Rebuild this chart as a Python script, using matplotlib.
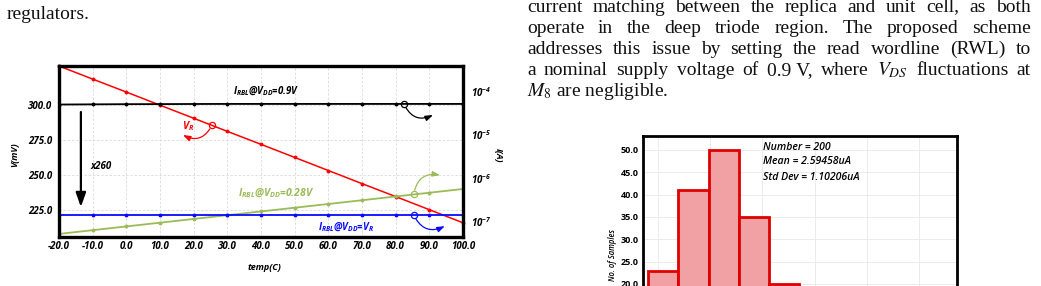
"""Page crop: replica read-bitline current vs temperature, next to a
Monte Carlo histogram of the read current and the surrounding paper text.

Saves to: out.png (1041 x 286 px)
"""

import matplotlib.pyplot as plt
import numpy as np
from matplotlib.ticker import NullLocator

W_PX, H_PX = 1041, 286
DPI = 100

CHART_FONT = "Open Sans"
TEXT_FONT = "Liberation Serif"

RED = "#ff0000"
GREEN = "#9bbb59"
BLUE = "#0a0aff"

# --- left chart: temperature sweep ---
TEMPS = [-20, -10, 0, 10, 20, 30, 40, 50, 60, 70, 80, 90, 100]
V_R_MV = [328.0, 318.6, 309.3, 299.9, 290.5, 281.1, 271.8, 262.4, 253.0,
          243.6, 234.3, 224.9, 215.5]
I_RBL_09V = [5.1e-5, 5.15e-5, 5.2e-5, 5.22e-5, 5.25e-5, 5.27e-5, 5.27e-5,
             5.27e-5, 5.27e-5, 5.27e-5, 5.27e-5, 5.27e-5, 5.27e-5]
I_RBL_028V = [5.14e-8, 6.28e-8, 7.67e-8, 9.36e-8, 1.143e-7, 1.396e-7,
              1.705e-7, 2.08e-7, 2.54e-7, 3.10e-7, 3.79e-7, 4.63e-7, 5.65e-7]
I_RBL_VR = [1.41e-7, 1.41e-7, 1.41e-7, 1.41e-7, 1.41e-7, 1.41e-7, 1.41e-7,
            1.41e-7, 1.41e-7, 1.41e-7, 1.41e-7, 1.41e-7, 1.41e-7]

X_TICK_LABELS = ["-20.0", "-10.0", "0.0", "10.0", "20.0", "30.0", "40.0",
                 "50.0", "60.0", "70.0", "80.0", "90.0", "100.0"]
V_TICKS = [225, 250, 275, 300]
V_TICK_LABELS = ["225.0", "250.0", "275.0", "300.0"]
I_TICKS = [1e-7, 1e-6, 1e-5, 1e-4]
I_TICK_LABELS = [r"$10^{-7}$", r"$10^{-6}$", r"$10^{-5}$", r"$10^{-4}$"]

# --- right chart: histogram of read current (only the top is on the page) ---
HIST_EDGES = [0.81, 1.39, 1.97, 2.55, 3.13, 3.71]
HIST_COUNTS = [23, 41, 50, 35, 20]
HIST_Y_TICKS = [20, 25, 30, 35, 40, 45, 50]
HIST_STATS = ["Number = 200", "Mean = 2.59458uA", "Std Dev = 1.10206uA"]

# --- surrounding paper text ---
LEFT_TEXT = "regulators."
RIGHT_TEXT = [
    "current matching between the replica and unit cell, as both",
    "operate in the deep triode region. The proposed scheme",
    "addresses this issue by setting the read wordline (RWL) to",
    "a nominal supply voltage of 0.9\u00a0V, where $V_{DS}$ fluctuations at",
    "$M_8$ are negligible.",
]


def fx(px):
    return px / W_PX


def fy(py):
    return 1 - py / H_PX


def justify(fig, renderer, line, x0, x1, y, **kw):
    """Place the words of one line so that it spans x0..x1 (pixels)."""
    items = [fig.text(0, fy(y), w, va="baseline", **kw) for w in line.split(" ")]
    widths = [t.get_window_extent(renderer).width for t in items]
    gap = (x1 - x0 - sum(widths)) / (len(items) - 1)
    x = x0
    for t, w in zip(items, widths):
        t.set_x(fx(x))
        x += w + gap


def main():
    plt.rcParams["mathtext.fontset"] = "custom"
    plt.rcParams["mathtext.rm"] = "Open Sans:italic:bold"
    plt.rcParams["mathtext.it"] = "Open Sans:italic:bold"
    plt.rcParams["mathtext.bf"] = "Open Sans:italic:bold"

    fig = plt.figure(figsize=(W_PX / DPI, H_PX / DPI), dpi=DPI)
    bold_it = dict(family=CHART_FONT, fontweight="bold", fontstyle="italic")

    # --- Left chart ---
    ax = fig.add_axes([fx(59), fy(237), (463 - 59) / W_PX, (237 - 66) / H_PX])
    ax.set_xlim(-20, 100)
    ax.set_ylim(205.3, 328)
    ax.set_xticks(TEMPS, X_TICK_LABELS, fontsize=7, **bold_it)
    ax.set_yticks(V_TICKS, V_TICK_LABELS, fontsize=7, **bold_it)
    ax.tick_params(length=0)
    ax.tick_params(axis="x", pad=3)
    ax.tick_params(axis="y", pad=5)
    ax.grid(True, color="#dadada", linewidth=0.6, linestyle=(0, (3, 2)))
    for s in ax.spines.values():
        s.set_visible(False)

    ax.plot(TEMPS, V_R_MV, color=RED, linewidth=1.1, marker="o",
            markersize=1.8, clip_on=False)

    ax2 = ax.twinx()
    ax2.set_yscale("log")
    ax2.set_ylim(10 ** -7.36, 10 ** -3.40)
    ax2.set_yticks(I_TICKS, I_TICK_LABELS, fontsize=7, **bold_it)
    ax2.yaxis.set_minor_locator(NullLocator())
    ax2.tick_params(length=0, pad=6)
    for s in ax2.spines.values():
        s.set_linewidth(2.4)
        s.set_color("black")

    ax2.plot(TEMPS, I_RBL_09V, color="black", linewidth=1.3, marker="o",
             markersize=1.8)
    ax2.plot(TEMPS, I_RBL_028V, color=GREEN, linewidth=1.3, marker="o",
             markersize=1.8)
    ax2.plot(TEMPS, I_RBL_VR, color=BLUE, linewidth=1.3, marker="o",
             markersize=1.8)

    ax.set_xlabel("temp(C)", fontsize=6.5, **bold_it)
    ax.xaxis.set_label_coords(0.509, -0.15)
    ax.set_ylabel("V(mV)", fontsize=6.5, **bold_it)
    ax.yaxis.set_label_coords(-0.098, 0.48)
    ax2.set_ylabel("I(A)", fontsize=6.5, rotation=270, va="center", **bold_it)
    ax2.yaxis.set_label_coords(1.087, 0.48)

    # circles marking each curve, with curved arrows to their axis
    head = "-|>,head_length=0.45,head_width=0.16"
    marks = [
        # (series, on current axis, temp, colour, arrow end (temp, mV), rad)
        (I_RBL_09V, True, 82.5, "black", (91.1, 292.8), 0.5),
        (V_R_MV, False, 25.4, RED, (16.8, 278.5), -0.5),
        (I_RBL_028V, True, 85.4, GREEN, (93.2, 249.7), -0.5),
        (I_RBL_VR, True, 85.4, BLUE, (94.6, 213.1), 0.5),
    ]
    for series, on_i, t, col, end, rad in marks:
        val = np.interp(t, TEMPS, series)
        tgt = ax2 if on_i else ax
        tgt.plot([t], [val], marker="o", markersize=4.5, markerfacecolor="none",
                 markeredgecolor=col, markeredgewidth=0.9)
        ax2.annotate("", xy=end, xycoords=ax.transData,
                     xytext=(t, val), textcoords=tgt.transData,
                     arrowprops=dict(arrowstyle=head, color=col, lw=0.9,
                                     shrinkA=3, shrinkB=0,
                                     connectionstyle=f"arc3,rad={rad}"))

    # x260 scaling arrow
    ax.annotate("", xy=(-13.5, 226.8), xytext=(-13.5, 295),
                arrowprops=dict(arrowstyle="-|>,head_length=0.85,head_width=0.3",
                                color="black", lw=1.6, shrinkA=0, shrinkB=0))
    ax.text(-7.5, 256.2, "x260", fontsize=7, ha="center", va="center",
            **bold_it)

    ax.text(41.5, 310, r"$I_{RBL}$@$V_{DD}$=0.9V", fontsize=7, ha="center",
            va="center", color="black", **bold_it)
    ax.text(18.3, 284.9, r"$V_R$", fontsize=7.5, ha="center", va="center",
            color=RED, **bold_it)
    ax.text(44.6, 236.8, r"$I_{RBL}$@$V_{DD}$=0.28V", fontsize=7.5,
            ha="center", va="center", color=GREEN, **bold_it)
    ax.text(65.2, 212.4, r"$I_{RBL}$@$V_{DD}$=$V_R$", fontsize=7,
            ha="center", va="center", color=BLUE, **bold_it)

    # --- Right chart: histogram, cut off by the page bottom ---
    hx = fig.add_axes([fx(643), (H_PX - 373.3) / H_PX, (957 - 643) / W_PX,
                       (373.3 - 136) / H_PX])
    hx.bar(HIST_EDGES[:-1], HIST_COUNTS, width=np.diff(HIST_EDGES),
           align="edge", facecolor="#f1a1a4", edgecolor="#e00000",
           linewidth=2)
    hx.set_xlim(0.713, 6.73)
    hx.set_ylim(0, 53.13)
    hx.set_yticks(HIST_Y_TICKS, [f"{v:.1f}" for v in HIST_Y_TICKS],
                  fontsize=6.5, family=CHART_FONT, fontweight="bold")
    hx.set_xticks([1, 2, 3, 4, 5, 6], [])
    hx.tick_params(length=0, pad=3)
    hx.set_axisbelow(True)
    hx.grid(True, color="#ebebeb", linewidth=0.7)
    for s in hx.spines.values():
        s.set_linewidth(2)
    hx.set_ylabel("No. of Samples", fontsize=5.5, family=CHART_FONT,
                  fontweight="semibold", fontstyle="italic")
    hx.yaxis.set_label_coords(-0.082, 0.5)

    for row, line in enumerate(HIST_STATS):
        fig.text(fx(763), fy(147 + 15 * row), line, fontsize=7.6,
                 family=CHART_FONT, fontweight="semibold", fontstyle="italic",
                 va="center", ha="left")

    # --- Paper text around the figures ---
    renderer = fig.canvas.get_renderer()
    para = dict(family=TEXT_FONT, fontsize=14, math_fontfamily="stix",
                color="#111111")
    fig.text(fx(7), fy(19), LEFT_TEXT, va="baseline", **para)
    baselines = [11.5, 32.7, 54, 75.2, 96.5]
    for line, y in zip(RIGHT_TEXT[:-1], baselines[:-1]):
        justify(fig, renderer, line, 527, 1031, y, **para)
    fig.text(fx(527), fy(baselines[-1]), RIGHT_TEXT[-1], va="baseline", **para)

    fig.savefig("out.png", dpi=DPI)
    plt.close(fig)


if __name__ == "__main__":
    main()
